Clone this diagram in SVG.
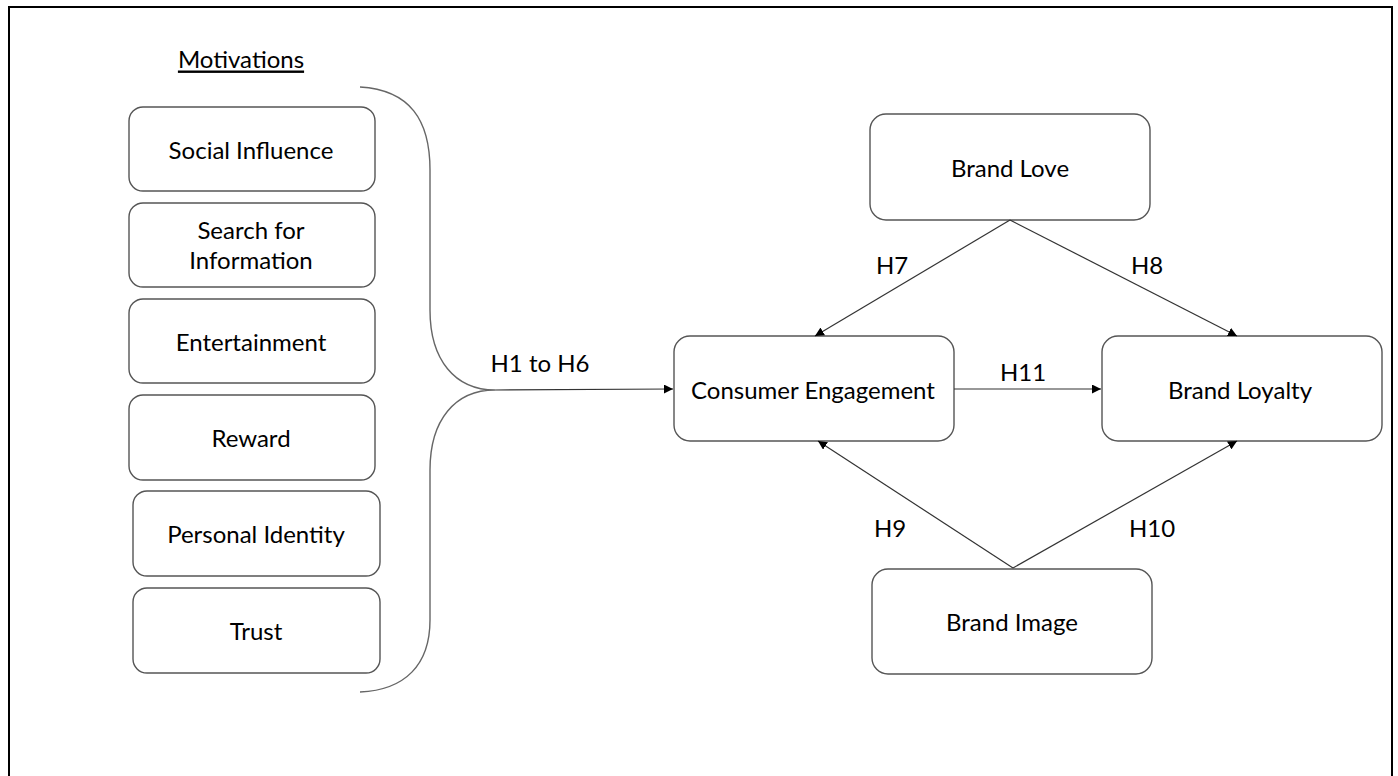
<svg xmlns="http://www.w3.org/2000/svg" width="1398" height="776" viewBox="0 0 1398 776">
  <style>
    .box { fill: #ffffff; stroke: #555555; stroke-width: 1.4; }
    .lbl { font-family: Lato, "Open Sans", "Liberation Sans", sans-serif; font-size: 24px; fill: #000000; text-anchor: middle; dominant-baseline: central; }
    .edge { fill: none; stroke: #333333; stroke-width: 1.2; }
    .brace { fill: none; stroke: #666666; stroke-width: 1.4; }
  </style>
  <defs>
    <marker id="arrow" viewBox="0 0 10 10" refX="10" refY="5" markerWidth="9" markerHeight="9" markerUnits="userSpaceOnUse" orient="auto">
      <path d="M0,0 L10,5 L0,10 z" fill="#000000"/>
    </marker>
  </defs>

  <rect x="0" y="0" width="1398" height="776" fill="#ffffff"/>
  <!-- outer frame -->
  <rect x="9" y="7" width="1383" height="790" fill="none" stroke="#000000" stroke-width="2"/>

  <!-- heading -->
  <text class="lbl" x="241" y="58" text-decoration="underline">Motivations</text>

  <!-- motivation boxes -->
  <g id="social-influence">
    <rect class="box" x="129" y="107" width="246" height="84" rx="14"/>
    <text class="lbl" x="251" y="149">Social Influence</text>
  </g>
  <g id="search-for-information">
    <rect class="box" x="129" y="203" width="246" height="84" rx="14"/>
    <text class="lbl" x="251" y="229">Search for</text>
    <text class="lbl" x="251" y="259">Information</text>
  </g>
  <g id="entertainment">
    <rect class="box" x="129" y="299" width="246" height="84" rx="14"/>
    <text class="lbl" x="251" y="341">Entertainment</text>
  </g>
  <g id="reward">
    <rect class="box" x="129" y="395" width="246" height="85" rx="14"/>
    <text class="lbl" x="251" y="437">Reward</text>
  </g>
  <g id="personal-identity">
    <rect class="box" x="133" y="491" width="247" height="85" rx="14"/>
    <text class="lbl" x="256" y="533">Personal Identity</text>
  </g>
  <g id="trust">
    <rect class="box" x="133" y="588" width="247" height="85" rx="14"/>
    <text class="lbl" x="256" y="630">Trust</text>
  </g>

  <!-- model boxes -->
  <g id="brand-love">
    <rect class="box" x="870" y="114" width="280" height="106" rx="16"/>
    <text class="lbl" x="1010" y="167">Brand Love</text>
  </g>
  <g id="consumer-engagement">
    <rect class="box" x="674" y="336" width="280" height="105" rx="16"/>
    <text class="lbl" x="813" y="389">Consumer Engagement</text>
  </g>
  <g id="brand-loyalty">
    <rect class="box" x="1102" y="336" width="280" height="105" rx="16"/>
    <text class="lbl" x="1240" y="389">Brand Loyalty</text>
  </g>
  <g id="brand-image">
    <rect class="box" x="872" y="569" width="280" height="105" rx="16"/>
    <text class="lbl" x="1012" y="621">Brand Image</text>
  </g>

  <!-- connectors -->
  <g id="connectors">
    <path class="brace" d="M360,87 C410,90 430,120 430,170 L430,310 C430,360 455,390 495,390 C455,390 430,420 430,470 L430,620 C430,665 405,690 360,692"/>
    <line class="edge" x1="495" y1="390" x2="673" y2="389" marker-end="url(#arrow)"/>
    <line class="edge" x1="1010" y1="220" x2="815" y2="336" marker-end="url(#arrow)"/>
    <line class="edge" x1="1010" y1="220" x2="1237" y2="336" marker-end="url(#arrow)"/>
    <line class="edge" x1="954" y1="389" x2="1101" y2="389" marker-end="url(#arrow)"/>
    <line class="edge" x1="1013" y1="568" x2="818" y2="441" marker-end="url(#arrow)"/>
    <line class="edge" x1="1013" y1="568" x2="1237" y2="441" marker-end="url(#arrow)"/>
    <text class="lbl" x="540" y="362">H1 to H6</text>
    <text class="lbl" x="892" y="264">H7</text>
    <text class="lbl" x="1147" y="264">H8</text>
    <text class="lbl" x="1023" y="371">H11</text>
    <text class="lbl" x="890" y="527">H9</text>
    <text class="lbl" x="1152" y="527">H10</text>
  </g>
</svg>
